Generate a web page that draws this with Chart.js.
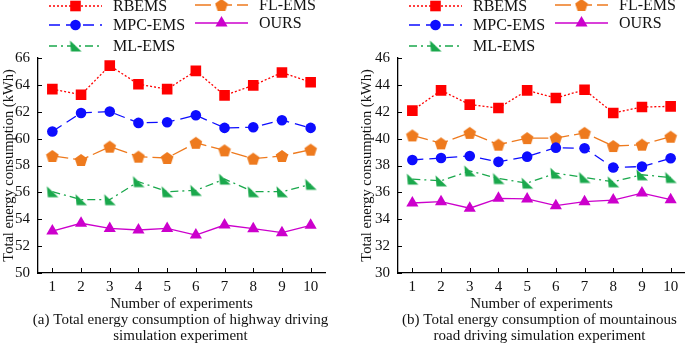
<!DOCTYPE html>
<html><head><meta charset="utf-8">
<script src="https://cdn.jsdelivr.net/npm/chart.js@4.4.1/dist/chart.umd.min.js"></script>
<style>
html,body{margin:0;padding:0;background:#fff;overflow:hidden;width:685px;height:345px}
.box{position:absolute;top:0;height:345px}
#a{left:0;width:345px} #b{left:345px;width:340px}
</style></head><body>
<div class="box" id="a"><canvas id="cA"></canvas></div>
<div class="box" id="b"><canvas id="cB"></canvas></div>
<script>
// experiments on the x axis
const experiments=['1','2','3','4','5','6','7','8','9','10'];
const names=['RBEMS','MPC-EMS','ML-EMS','FL-EMS','OURS'];

// (a) highway
const hwRB =[63.68,63.27,65.43,64.05,63.68,65.04,63.22,63.96,64.92,64.20];
const hwMPC=[60.53,61.91,62.01,61.17,61.22,61.74,60.80,60.85,61.37,60.80];
const hwML =[56.05,55.46,55.46,56.80,56.05,56.15,56.99,56.05,56.05,56.60];
const hwFL =[58.71,58.41,59.40,58.66,58.56,59.69,59.13,58.51,58.71,59.18];
const hwOUR=[53.12,53.70,53.32,53.20,53.32,52.82,53.57,53.30,53.00,53.55];
const hwY=[50,66];

// (b) mountain road
const mtRB =[42.08,43.59,42.53,42.28,43.59,43.02,43.64,41.91,42.35,42.40];
const mtMPC=[38.41,38.56,38.71,38.27,38.66,39.33,39.28,37.85,37.92,38.54];
const mtML =[36.99,36.86,37.60,37.03,36.69,37.43,37.11,36.79,37.31,37.11];
const mtFL =[40.24,39.65,40.43,39.55,40.04,40.04,40.43,39.45,39.55,40.14];
const mtOUR=[35.21,35.31,34.82,35.56,35.51,35.01,35.31,35.43,35.95,35.46];
const mtY=[30,46];

const F='"Liberation Serif","Times New Roman",serif';
const col={rb:'#ff0000',mpc:'#0d0dff',ml:'#1aa84c',fl:'#ee7a1e',our:'#cc00cc'};

function marker(kind,color){
  const c=document.createElement('canvas'); c.width=c.height=14;
  const g=c.getContext('2d'); g.fillStyle=color; g.beginPath();
  if(kind==='pent'){
    for(let i=0;i<5;i++){const t=-Math.PI/2+i*2*Math.PI/5; g.lineTo(7+6.6*Math.cos(t),7.6+6.6*Math.sin(t));}
  } else { g.moveTo(1.5,1.5); g.lineTo(2.5,12.5); g.lineTo(13,12.5); }
  g.closePath(); g.fill(); return c;
}
const pent=marker('pent',col.fl), wedge=marker('wedge',col.ml);

function sets(rb,mpc,ml,fl,our){
  const base={borderWidth:1.3,tension:0,pointBorderWidth:0};
  return [
    {...base,label:names[0],data:rb,borderColor:col.rb,backgroundColor:col.rb,borderDash:[2,2],pointStyle:'rect',pointRadius:7.5},
    {...base,label:names[1],data:mpc,borderColor:col.mpc,backgroundColor:col.mpc,borderDash:[11,6],pointStyle:'circle',pointRadius:5.3},
    {...base,label:names[2],data:ml,borderColor:col.ml,backgroundColor:col.ml,borderDash:[8,4,2,4],pointStyle:wedge,pointRadius:7},
    {...base,label:names[3],data:fl,borderColor:col.fl,backgroundColor:col.fl,borderDash:[16,5],pointStyle:pent,pointRadius:7},
    {...base,label:names[4],data:our,borderColor:col.our,backgroundColor:col.our,pointStyle:'triangle',pointRadius:7}
  ];
}

const keys={id:'keys',afterDraw(chart){
  const {ctx,chartArea:a}=chart;
  const spots=[[0,6],[0,25],[0,46],[1,5],[1,23]];
  ctx.save();
  chart.data.datasets.forEach((ds,i)=>{
    const x0=a.left+(spots[i][0]?157:11), y=spots[i][1];
    ctx.strokeStyle=ds.borderColor; ctx.lineWidth=1.3; ctx.setLineDash(ds.borderDash||[]);
    ctx.beginPath(); ctx.moveTo(x0,y); ctx.lineTo(x0+53,y); ctx.stroke(); ctx.setLineDash([]);
    ctx.fillStyle=ds.backgroundColor; ctx.strokeStyle=ds.backgroundColor;
    if(ds.pointStyle instanceof HTMLCanvasElement) ctx.drawImage(ds.pointStyle,x0+26.5-7,y-7);
    else Chart.helpers.drawPoint(ctx,{pointStyle:ds.pointStyle,radius:ds.pointRadius,rotation:0,borderWidth:0},x0+26.5,y);
    ctx.fillStyle='#111'; ctx.font='16px '+F; ctx.textBaseline='middle'; ctx.textAlign='left';
    ctx.fillText(ds.label,x0+64,y+1);
  });
  ctx.restore();
}};

const under={id:'under',afterDraw(chart){
  const {ctx,chartArea:a}=chart, lines=chart.options.plugins.under.lines;
  const xs=chart.scales.x, ys=chart.scales.y;
  ctx.save(); ctx.strokeStyle='#000'; ctx.lineWidth=1;
  xs.ticks.forEach((t,i)=>{const p=Math.round(xs.getPixelForTick(i))+0.5; ctx.beginPath(); ctx.moveTo(p,a.bottom); ctx.lineTo(p,a.bottom-5); ctx.stroke();});
  ys.ticks.forEach((t,i)=>{const p=Math.round(ys.getPixelForTick(i))+0.5; ctx.beginPath(); ctx.moveTo(a.left,p); ctx.lineTo(a.left+4,p); ctx.stroke();});
  ctx.fillStyle='#111'; ctx.textAlign='center'; ctx.textBaseline='middle'; ctx.font='15px '+F;
  const cx=(a.left+a.right)/2;
  ctx.fillText('Number of experiments',cx,a.bottom+31);
  ctx.fillText(lines[0],cx+lines[2],a.bottom+47);
  ctx.fillText(lines[1],cx+lines[2],a.bottom+63);
  ctx.restore();
}};

function make(id,data,yr,padL,yw,padR,lines){
  new Chart(document.getElementById(id),{type:'line',
    data:{labels:experiments,datasets:data},
    options:{responsive:true,maintainAspectRatio:false,animation:false,
      layout:{autoPadding:false,padding:{top:58,left:padL,right:padR,bottom:0}},
      plugins:{legend:{display:false},tooltip:{enabled:false},under:{lines}},
      scales:{
        x:{offset:true,grid:{display:true,drawOnChartArea:false,drawTicks:false},border:{color:'#000',width:1.3},
           ticks:{color:'#111',font:{family:F,size:15},padding:5,maxRotation:0},afterFit(s){s.height=72;}},
        y:{min:yr[0],max:yr[1],grid:{display:true,drawOnChartArea:false,drawTicks:false},border:{color:'#000',width:1.3},
           ticks:{stepSize:2,color:'#111',font:{family:F,size:15},padding:8},
           title:{display:true,text:'Total energy consumption (kWh)',color:'#111',font:{family:F,size:14.5},padding:{top:0,bottom:0}},
           afterFit(s){s.width=yw;}}
      }},
    plugins:[keys,under]});
}

make('cA',sets(hwRB,hwMPC,hwML,hwFL,hwOUR),hwY,0,38,20,
  ['(a) Total energy consumption of highway driving','simulation experiment',-1]);
make('cB',sets(mtRB,mtMPC,mtML,mtFL,mtOUR),mtY,13,40,0,
  ['(b) Total energy consumption of mountainous','road driving simulation experiment',-2]);
</script>
</body></html>
